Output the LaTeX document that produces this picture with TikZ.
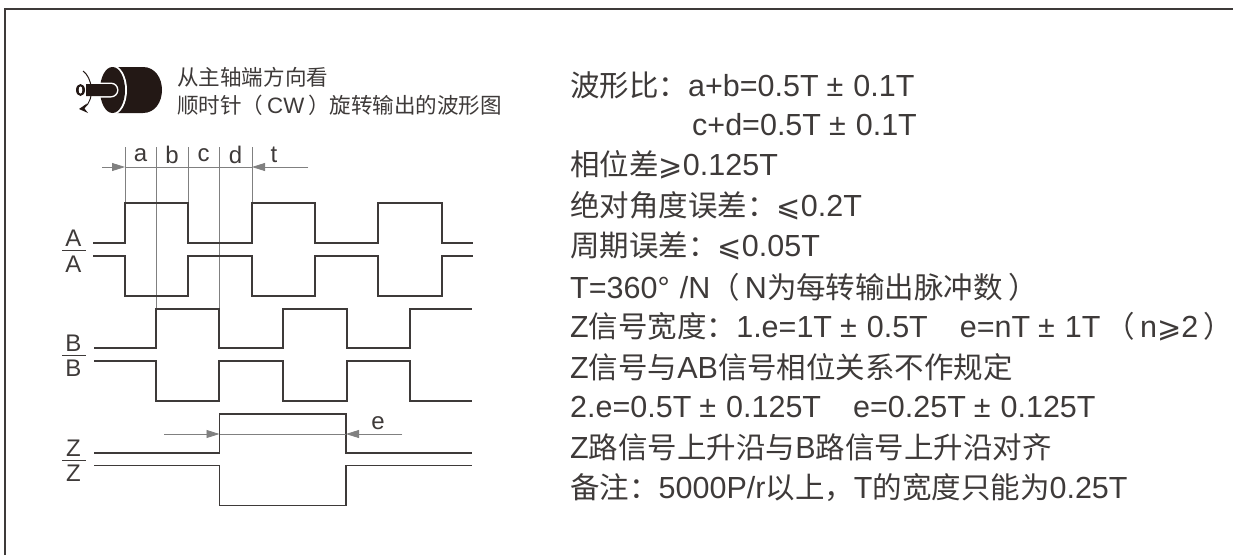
\documentclass[tikz,border=0pt]{standalone}
\usepackage{fontspec}
\setmainfont{Liberation Sans}
\newfontfamily\cjk[Scale=0.967]{Noto Sans CJK SC}
\newfontfamily\mathsym[Scale=0.95]{DejaVu Sans}
\usetikzlibrary{arrows.meta}
\usetikzlibrary{positioning}
\definecolor{inkc}{HTML}{3E3A39}
\definecolor{dimc}{HTML}{808080}
\definecolor{iconc}{HTML}{231815}
\newcommand{\zh}[1]{{\cjk #1}}
\newcommand{\gequal}{{\mathsym ⩾}}
\newcommand{\lequal}{{\mathsym ⩽}}
\newcommand{\pmgap}{\hspace{8pt}±\hspace{10pt}}
\tikzset{
    wave/.style={draw=inkc, line width=1.1pt},
    guide/.style={draw=dimc, line width=0.8pt},
    dimline/.style={draw=dimc, line width=0.8pt},
    dimtip/.style={-{Triangle[length=13pt,width=8pt]}, draw=dimc, fill=dimc, line width=0.8pt},
    big/.style={anchor=west, text=inkc, inner sep=0pt, font=\fontsize{30.5}{30.5}\selectfont},
    small/.style={anchor=west, text=inkc, inner sep=0pt, font=\fontsize{22.3}{22.3}\selectfont},
    sig/.style={text=inkc, inner sep=0pt, font=\fontsize{24}{24}\selectfont},
}
\begin{document}
\begin{tikzpicture}[x=1pt,y=-1pt]
    \useasboundingbox (0,0) rectangle (1233,555);
    % frame
    \draw[inkc, line width=1.3pt] (5,555)--(5,9)--(1233,9);

    % encoder icon
    \fill[iconc] (113,67)--(143,67) .. controls (155,67) and (162,78) .. (162,90) .. controls (162,102) and (155,113) .. (143,113)--(113,113)--cycle;
    \fill[white] (113,90) ellipse [x radius=14, y radius=24.5];
    \fill[iconc] (112.5,90) ellipse [x radius=12.5, y radius=23];
    \fill[white] (86,82.5)--(111,82.5) arc (-90:90:7.5)--(86,97.5)--cycle;
    \fill[iconc] (86,84)--(111,84) arc (-90:90:6)--(86,96)--cycle;
    \fill[white] (83,80) rectangle (86,100);
    \fill[iconc] (80.5,90) ellipse [x radius=4.5, y radius=6];
    \fill[white] (80.5,90) ellipse [x radius=1.8, y radius=3.6];
    \draw[iconc, line width=1pt] (83,71) .. controls (92,77) and (96,99) .. (84,108);
    \fill[iconc] (79,109)--(87,103.5)--(84.5,108.5)--(88,113)--cycle;

    % texts beside the icon
    \node[small] (viewa) at (177,77) {\zh{从主轴端方向看}};
    \node[small] (viewb) at (177,105) {\zh{顺时针（}\,CW\,\zh{）旋转输出的波形图}};

    % dimension a b c d t
    \coordinate (tipa) at (125,167);
    \coordinate (tipt) at (252,167);
    \foreach \xpos/\ybot in {125/203,156/309,188/203,219/309,252/203}
        \draw[guide] (\xpos,147)--(\xpos,\ybot);
    \draw[dimline] (tipa)--(tipt);
    \draw[dimtip] (102,167)--(tipa);
    \draw[dimtip] (308,167)--(tipt);
    \node[sig] (laba) at (140.5,155) {a};
    \node[sig] (labb) at (172,155) {b};
    \node[sig] (labc) at (203.5,155) {c};
    \node[sig] (labd) at (235.5,155) {d};
    \node[sig] (labt) at (274,155) {t};

    % waveforms
    \draw[wave] (93,243)--(125,243)--(125,203)--(188,203)--(188,243)--(252,243)--(252,203)--(315,203)--(315,243)--(378,243)--(378,203)--(442,203)--(442,243)--(473,243);
    \draw[wave] (93,256)--(125,256)--(125,296)--(188,296)--(188,256)--(252,256)--(252,296)--(315,296)--(315,256)--(378,256)--(378,296)--(442,296)--(442,256)--(473,256);
    \draw[wave] (94,348)--(156,348)--(156,309)--(219,309)--(219,348)--(283,348)--(283,309)--(347,309)--(347,348)--(410,348)--(410,309)--(472,309);
    \draw[wave] (94,361)--(156,361)--(156,401)--(219,401)--(219,361)--(283,361)--(283,401)--(347,401)--(347,361)--(410,361)--(410,401)--(472,401);
    \draw[wave] (94,453)--(219.5,453)--(219.5,414)--(346,414)--(346,453)--(472,453);
    \draw[wave] (94,465.5)--(219.5,465.5)--(219.5,505.5)--(346,505.5)--(346,465.5)--(472,465.5);

    % dimension e
    \coordinate (tipl) at (219.5,434);
    \coordinate (tipr) at (346,434);
    \draw[dimline] (tipl)--(tipr);
    \draw[dimtip] (164,434)--(tipl);
    \draw[dimtip] (402,434)--(tipr);
    \node[sig] (labe) at (378,423) {e};

    % signal names
    \foreach \name/\ytop/\yrule/\ybot in {A/238/250/264,B/343/355/368,Z/448/460/473}{
        \node[sig] (top\name) at (73.5,\ytop) {\name};
        \node[sig] (bot\name) at (73.5,\ybot) {\name};
        \draw[inkc, line width=0.8pt] (62,\yrule)--(86,\yrule);
    }

    % notes
    \node[big] (noa) at (570,85) {\zh{波形比：}a+b=0.5T\pmgap 0.1T};
    \node[big] (nob) at (692,125) {c+d=0.5T\pmgap 0.1T};
    \node[big] (noc) at (570,165) {\zh{相位差}\gequal 0.125T};
    \node[big] (nod) at (570,206) {\zh{绝对角度误差：}\lequal 0.2T};
    \node[big] (noe) at (570,246) {\zh{周期误差：}\lequal 0.05T};
    \node[big] (nof) at (570,287) {T=360°\,\,/N\zh{（}\,N\zh{为每转输出脉冲数}\,\zh{）}};
    \node[big] (nog) at (570,327) {Z\zh{信号宽度：}1.e=1T\pmgap 0.5T\hspace{32pt}e=nT\pmgap 1T\,\zh{（}\,n\gequal 2\,\zh{）}};
    \node[big] (noh) at (570,367) {Z\zh{信号与}AB\zh{信号相位关系不作规定}};
    \node[big] (noi) at (570,407) {2.e=0.5T\pmgap 0.125T\hspace{32pt}e=0.25T\pmgap 0.125T};
    \node[big] (noj) at (570,447) {Z\zh{路信号上升沿与}B\zh{路信号上升沿对齐}};
    \node[big] (nok) at (570,488) {\zh{备注：}5000P/r\zh{以上，}T\zh{的宽度只能为}0.25T};
\end{tikzpicture}
\end{document}
